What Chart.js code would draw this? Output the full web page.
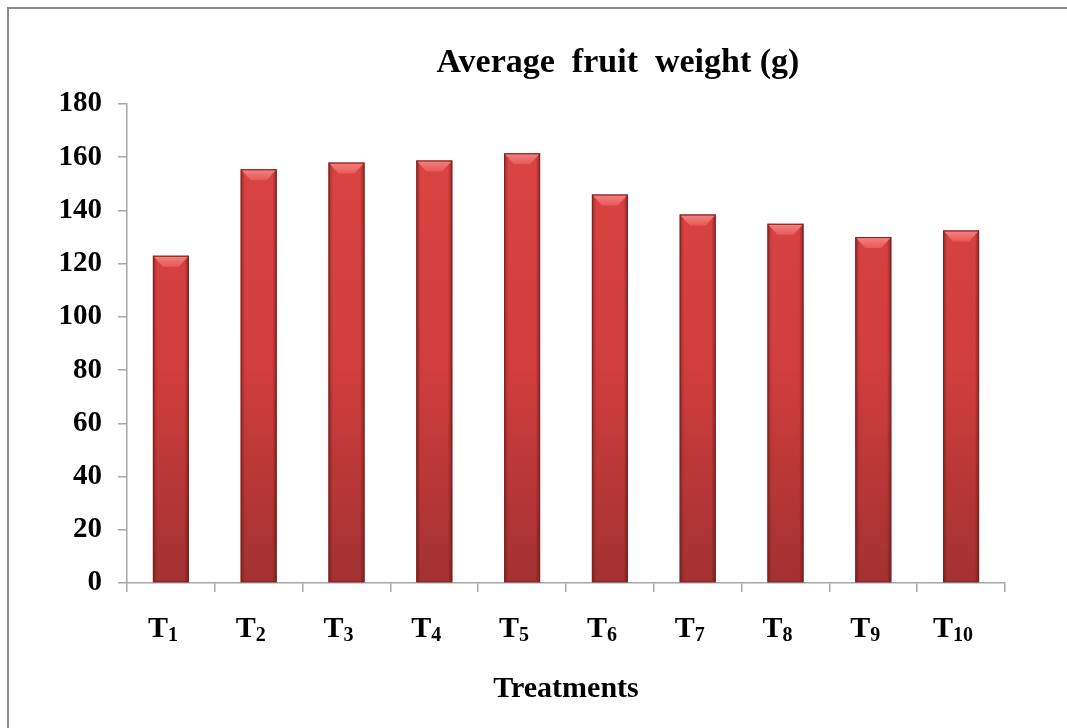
<!DOCTYPE html>
<html>
<head>
<meta charset="utf-8">
<script src="https://cdn.jsdelivr.net/npm/chart.js@4.4.1/dist/chart.umd.min.js"></script>
<style>
  html, body { margin: 0; padding: 0; background: #fff; }
  #wrap { width: 1067px; height: 728px; }
</style>
</head>
<body>
<div id="wrap"><canvas id="fruitChart" width="1067" height="728"></canvas></div>
<script>
// data
const treatments = ['T1', 'T2', 'T3', 'T4', 'T5', 'T6', 'T7', 'T8', 'T9', 'T10'];
const subscripts = ['1', '2', '3', '4', '5', '6', '7', '8', '9', '10'];
const fruitWeight = [123, 155.5, 158, 158.8, 161.5, 146, 138.5, 135, 130, 132.5];
const yTicks = [0, 20, 40, 60, 80, 100, 120, 140, 160, 180];

const chartTitle = 'Average  fruit  weight (g)';
const xTitle = 'Treatments';
const serif = "'Liberation Serif', 'Times New Roman', serif";

// vertical body gradient for the bars
function barFill(context){
  const chart = context.chart;
  const area = chart.chartArea;
  if (!area) return '#d44040';
  const g = chart.ctx.createLinearGradient(0, area.top, 0, area.bottom);
  g.addColorStop(0, '#dc4544');
  g.addColorStop(0.55, '#d03e3d');
  g.addColorStop(1, '#a23131');
  return g;
}

// frame + title, drawn before everything
const framePlugin = {
  id: 'frame',
  beforeDraw(chart){
    const ctx = chart.ctx;
    ctx.save();
    ctx.fillStyle = '#fff';
    ctx.fillRect(0, 0, chart.width, chart.height);
    ctx.strokeStyle = '#8a8a8a';
    ctx.lineWidth = 2;
    ctx.strokeRect(8, 8, chart.width + 20, chart.height + 20);
    const a = chart.chartArea;
    ctx.fillStyle = '#000';
    ctx.font = 'bold 34px ' + serif;
    ctx.textAlign = 'center';
    ctx.textBaseline = 'alphabetic';
    ctx.fillText(chartTitle, (a.left + a.right) / 2 + 52, 72);
    ctx.restore();
  }
};

// bevel / cylinder shading over each bar, and subscripted x labels
const bevelPlugin = {
  id: 'bevel',
  afterDatasetsDraw(chart){
    const ctx = chart.ctx;
    const meta = chart.getDatasetMeta(0);
    ctx.save();
    meta.data.forEach(bar => {
      const p = bar.getProps(['x', 'y', 'base', 'width'], true);
      const l = p.x - p.width / 2, r = p.x + p.width / 2;
      const h = p.base - p.y;
      // side shading
      const sg = ctx.createLinearGradient(l, 0, r, 0);
      sg.addColorStop(0, 'rgba(80,10,10,0.45)');
      sg.addColorStop(0.12, 'rgba(80,10,10,0.0)');
      sg.addColorStop(0.88, 'rgba(80,10,10,0.0)');
      sg.addColorStop(1, 'rgba(80,10,10,0.5)');
      ctx.fillStyle = sg;
      ctx.fillRect(l, p.y, p.width, h);
      // top bevel
      const bv = Math.min(11, h / 2);
      const tg = ctx.createLinearGradient(0, p.y, 0, p.y + bv);
      tg.addColorStop(0, '#f58482');
      tg.addColorStop(1, '#e65957');
      ctx.fillStyle = tg;
      ctx.beginPath();
      ctx.moveTo(l + 1, p.y + 1);
      ctx.lineTo(r - 1, p.y + 1);
      ctx.lineTo(r - 10, p.y + bv);
      ctx.lineTo(l + 10, p.y + bv);
      ctx.closePath();
      ctx.fill();
      ctx.strokeStyle = '#7c2424';
      ctx.lineWidth = 1;
      ctx.strokeRect(l + 0.5, p.y + 0.5, p.width - 1, h - 1);
    });
    ctx.restore();
  },
  afterDraw(chart){
    const ctx = chart.ctx;
    const xs = chart.scales.x;
    ctx.save();
    ctx.fillStyle = '#000';
    ctx.textBaseline = 'alphabetic';
    treatments.forEach((t, i) => {
      const cx = xs.getPixelForValue(i) - 8;
      const sub = subscripts[i];
      ctx.font = 'bold 30px ' + serif;
      const wT = ctx.measureText('T').width;
      ctx.font = 'bold 20px ' + serif;
      const wS = ctx.measureText(sub).width;
      const start = cx - (wT + wS) / 2;
      ctx.font = 'bold 30px ' + serif;
      ctx.fillText('T', start, xs.top + 54);
      ctx.font = 'bold 20px ' + serif;
      ctx.fillText(sub, start + wT, xs.top + 58);
    });
    ctx.restore();
  }
};

const cfg = {
  type: 'bar',
  data: {
    labels: treatments,
    datasets: [{
      label: 'Average fruit weight (g)',
      data: fruitWeight,
      backgroundColor: barFill,
      borderWidth: 0,
      barPercentage: 0.41,
      categoryPercentage: 1.0
    }]
  },
  options: {
    responsive: false,
    animation: false,
    layout: { padding: { top: 104, right: 62, bottom: 0, left: 0 } },
    plugins: {
      legend: { display: false },
      title: { display: false },
      tooltip: { enabled: false }
    },
    scales: {
      x: {
        grid: { display: true, drawOnChartArea: false, drawTicks: true, tickLength: 9, color: '#a6a6a6', lineWidth: 1.5, offset: true },
        border: { color: '#a6a6a6', width: 1.5 },
        ticks: { color: 'rgba(0,0,0,0)', font: { size: 26, family: serif, weight: 'bold' } },
        title: {
          display: true, text: xTitle, color: '#000',
          font: { size: 30, family: serif, weight: 'bold' },
          padding: { top: 0, bottom: 21 }
        },
        afterFit(scale){ scale.height = 145; }
      },
      y: {
        min: 0, max: 180,
        afterBuildTicks(scale){ scale.ticks = yTicks.map(v => ({ value: v })); },
        grid: { display: true, drawOnChartArea: false, drawTicks: true, tickLength: 9, color: '#a6a6a6', lineWidth: 1.5 },
        border: { color: '#a6a6a6', width: 1.5 },
        ticks: { color: '#000', padding: 16, font: { size: 29, family: serif, weight: 'bold' } },
        afterFit(scale){ scale.width = 127; }
      }
    }
  },
  plugins: [framePlugin, bevelPlugin]
};

new Chart(document.getElementById('fruitChart').getContext('2d'), cfg);
</script>
</body>
</html>
